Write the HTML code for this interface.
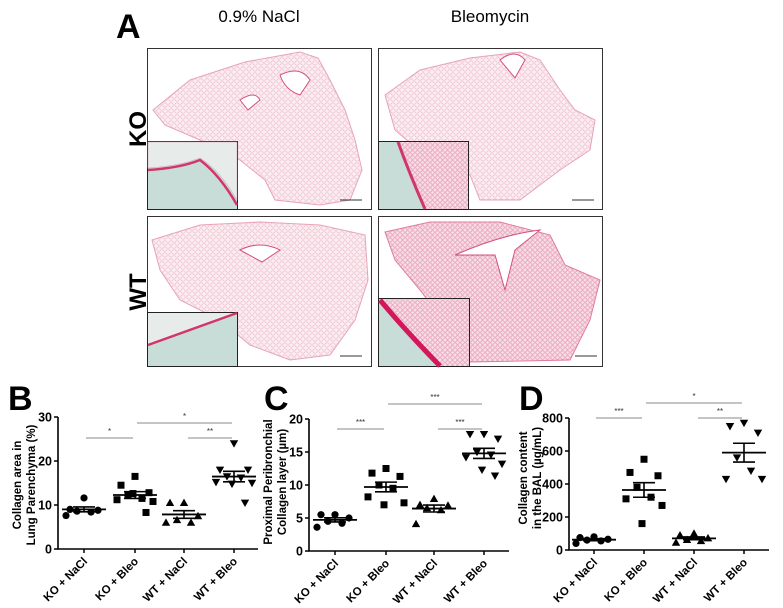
<!DOCTYPE html>
<html><head><meta charset="utf-8">
<style>
html,body{margin:0;padding:0;background:#fff;}
svg{display:block;font-family:"Liberation Sans",Arial,sans-serif;}
</style></head>
<body>
<svg id="fig" width="783" height="608" viewBox="0 0 783 608" xmlns="http://www.w3.org/2000/svg">
<defs>
<pattern id="tissue" width="6" height="6" patternUnits="userSpaceOnUse">
<rect width="6" height="6" fill="#fbeef2"/>
<circle cx="3" cy="3" r="2.2" fill="none" stroke="#eab3c4" stroke-width="0.6"/>
</pattern>
<pattern id="tissue2" width="5" height="5" patternUnits="userSpaceOnUse">
<rect width="5" height="5" fill="#f7dde6"/>
<circle cx="2.5" cy="2.5" r="1.8" fill="none" stroke="#e08aa6" stroke-width="0.6"/>
</pattern>
</defs>

<text x="116" y="38" font-size="34" font-weight="bold">A</text>
<text x="259" y="22" font-size="17" text-anchor="middle">0.9% NaCl</text>
<text x="490" y="22" font-size="17" text-anchor="middle">Bleomycin</text>
<text transform="translate(146,129) rotate(-90)" font-size="24" font-weight="bold" text-anchor="middle">KO</text>
<text transform="translate(146,292) rotate(-90)" font-size="24" font-weight="bold" text-anchor="middle">WT</text>

<g>
<rect x="147.5" y="48.5" width="224" height="161" fill="#fff" stroke="#333"/>
<path d="M153,110 L190,80 L245,62 L300,52 L318,58 L330,80 L345,110 L355,140 L362,170 L350,200 L320,205 L275,200 L265,180 L240,160 L200,140 L165,125 Z" fill="url(#tissue)" stroke="#e7a3b7"/>
<path d="M280,75 Q300,65 310,80 L300,95 Q285,90 280,75 Z M240,100 Q255,90 260,100 L248,110 Z" fill="#fff" stroke="#d6507a"/>
<rect x="147.5" y="141.5" width="90" height="68" fill="#c8ddd7" stroke="#222"/>
<path d="M148,142 L237,142 L237,200 Q220,170 200,158 Q180,166 148,168 Z" fill="#e7ecea" stroke="#d9a0b4" stroke-width="0.5"/>
<path d="M148,170 Q180,168 200,160 Q220,175 237,205" fill="none" stroke="#d2356a" stroke-width="2.5"/>
<line x1="340" y1="200" x2="362" y2="200" stroke="#333"/>
</g>
<g>
<rect x="378.5" y="48.5" width="224" height="161" fill="#fff" stroke="#333"/>
<path d="M385,95 L420,70 L470,58 L520,52 L540,60 L560,90 L575,110 L595,120 L590,150 L560,170 L520,200 L480,200 L470,175 L430,160 L395,130 Z" fill="url(#tissue)" stroke="#e7a3b7"/>
<path d="M500,60 Q515,48 525,60 L515,78 Z" fill="#fff" stroke="#d6507a"/>
<rect x="378.5" y="141.5" width="90" height="68" fill="#c8ddd7" stroke="#222"/>
<path d="M400,142 L468,142 L468,209 L425,209 Q410,170 400,142 Z" fill="url(#tissue2)"/>
<path d="M398,142 Q410,175 425,209" fill="none" stroke="#d2356a" stroke-width="3"/>
<line x1="572" y1="200" x2="594" y2="200" stroke="#333"/>
</g>
<g>
<rect x="147.5" y="216.5" width="224" height="150" fill="#fff" stroke="#333"/>
<path d="M152,240 L200,225 L260,222 L320,225 L365,235 L368,280 L355,320 L330,355 L290,360 L250,345 L220,320 L180,300 L160,270 Z" fill="url(#tissue)" stroke="#e7a3b7"/>
<path d="M240,250 Q260,240 280,250 L262,262 Z" fill="#fff" stroke="#d6507a"/>
<rect x="147.5" y="312.5" width="90" height="54" fill="#c8ddd7" stroke="#222"/>
<path d="M148,345 Q190,330 237,313 L148,313 Z" fill="#e7ecea"/>
<path d="M148,345 Q190,330 237,313" fill="none" stroke="#d2356a" stroke-width="2.5"/>
<line x1="340" y1="356" x2="362" y2="356" stroke="#333"/>
</g>
<g>
<rect x="378.5" y="216.5" width="224" height="150" fill="#fff" stroke="#333"/>
<path d="M385,232 L430,222 L500,222 L550,235 L565,265 L600,280 L590,320 L570,360 L470,362 L450,330 L420,290 L395,260 Z" fill="url(#tissue2)" stroke="#e07aa0"/>
<path d="M455,255 Q500,235 540,230 L515,250 L505,290 L495,255 Z" fill="#fff" stroke="#d6507a"/>
<rect x="378.5" y="298.5" width="91" height="68" fill="#c8ddd7" stroke="#222"/>
<path d="M380,300 L469,300 L469,366 L440,366 Q405,330 380,300 Z" fill="url(#tissue2)"/>
<path d="M380,300 Q405,330 440,366" fill="none" stroke="#d2175a" stroke-width="5"/>
<line x1="575" y1="356" x2="597" y2="356" stroke="#333"/>
</g>

<g id="chartB"></g>
<g id="chartC"></g>
<g id="chartD"></g>
</svg>

<script>
const categories = ["KO + NaCl","KO + Bleo","WT + NaCl","WT + Bleo"];
const bKoNacl = [11.6, 9.0, 8.8, 8.6, 8.4, 7.6];
const bKoBleo = [16.5, 14.5, 12.8, 12.2, 11.5, 11.2, 10.8, 12.6, 8.3];
const bWtNacl = [10.5, 10.5, 7.5, 6.6, 6.0, 6.0];
const bWtBleo = [24.0, 18.0, 18.0, 16.5, 16.2, 15.2, 15.0, 14.8, 10.5];
const bTicks = [0, 10, 20, 30];
const cKoNacl = [5.5, 5.5, 5.0, 4.5, 4.2, 3.6];
const cKoBleo = [12.5, 11.8, 11.3, 10.0, 9.5, 8.2, 7.3, 7.0];
const cWtNacl = [7.9, 7.0, 6.9, 6.5, 6.2, 4.1];
const cWtBleo = [17.7, 17.7, 17.0, 15.0, 14.6, 14.2, 13.2, 12.3, 11.4];
const cTicks = [0, 5, 10, 15, 20];
const dKoNacl = [80, 75, 65, 60, 55, 40];
const dKoBleo = [550, 470, 450, 380, 320, 310, 270, 160];
const dWtNacl = [100, 90, 72, 62, 55, 45];
const dWtBleo = [770, 750, 710, 560, 480, 430, 430];
const dTicks = [0, 200, 400, 600, 800];
const bSig = ["*", "*", "**"];
const cSig = ["***", "***", "***"];
const dSig = ["***", "*", "**"];

const NS = "http://www.w3.org/2000/svg";
function mk(parent, tag, attrs, text){
  const e = document.createElementNS(NS, tag);
  for (const k in attrs) e.setAttribute(k, attrs[k]);
  if (text !== undefined) e.textContent = text;
  parent.appendChild(e); return e;
}
function marker(g, shape, x, y){
  let e;
  if (shape === 0) e = mk(g, "circle", {cx:x, cy:y, r:3.6, fill:"#000"});
  else if (shape === 1) e = mk(g, "rect", {x:x-3.5, y:y-3.5, width:7, height:7, fill:"#000"});
  else if (shape === 2) e = mk(g, "path", {d:`M${x},${y-4.2}L${x+4.2},${y+3.2}L${x-4.2},${y+3.2}Z`, fill:"#000"});
  else e = mk(g, "path", {d:`M${x},${y+4.2}L${x+4.2},${y-3.2}L${x-4.2},${y-3.2}Z`, fill:"#000"});
  
  
}
const jit = [0, -14, 14, -7, 7, -18, 18, -2, 11];

function drawChart(id, cfg){
  const g = document.getElementById(id);
  const {x0, x1, yTop, yBot, max, ticks, series, cats, sig, sigY, title, letter, lx, titleX, titleY} = cfg;
  const ys = v => yBot - v / max * (yBot - yTop);
  const xs = i => cats[i];
  const L = mk(g, "text", {x:lx, y:410, "font-size":34, "font-weight":"bold"}, letter);
  
  
  const ax = mk(g, "path", {d:`M${x0},${yTop}V${yBot}H${x1}`, fill:"none", stroke:"#000", "stroke-width":1.6});
  
  
  ticks.forEach(t => {
    const y = ys(t);
    mk(g, "line", {x1:x0-4, x2:x0, y1:y, y2:y, stroke:"#000", "stroke-width":1.5});
    const tl = mk(g, "text", {x:x0-6, y:y+4.5, "font-size":12.5, "font-weight":"bold", "text-anchor":"end"}, t);
    
    
  });
  const yt = mk(g, "text", {transform:`translate(${titleX},${titleY}) rotate(-90)`, "font-size":11.5, "font-weight":"bold", "text-anchor":"middle"});
  
  
  mk(yt, "tspan", {x:0, dy:0}, title[0]);
  mk(yt, "tspan", {x:0, dy:14}, title[1]);
  categories.forEach((c, i) => {
    const x = xs(i);
    mk(g, "line", {x1:x, x2:x, y1:yBot, y2:yBot+4, stroke:"#000", "stroke-width":1.5});
    const cl = mk(g, "text", {transform:`translate(${x+4},${yBot+13}) rotate(-45)`, "font-size":11.5, "font-weight":"bold", "text-anchor":"end"}, c);
    
    
  });
  series.forEach((arr, i) => {
    const cx = xs(i);
    arr.forEach((v, k) => marker(g, i, cx + jit[k % jit.length], ys(v)));
    const n = arr.length, m = arr.reduce((a,b)=>a+b,0)/n;
    const sd = Math.sqrt(arr.reduce((a,b)=>a+(b-m)*(b-m),0)/(n-1)), se = sd/Math.sqrt(n);
    const ml = mk(g, "line", {x1:cx-22, x2:cx+22, y1:ys(m), y2:ys(m), stroke:"#000", "stroke-width":1.8});
    
    
    const eb = mk(g, "path", {d:`M${cx},${ys(m+se)}V${ys(m-se)}M${cx-11},${ys(m+se)}H${cx+11}M${cx-11},${ys(m-se)}H${cx+11}`, fill:"none", stroke:"#000", "stroke-width":1.6});
    
    
  });
  const pairs = [[0,1,sigY[0]],[1,3,sigY[1]],[2,3,sigY[0]]];
  pairs.forEach((p, k) => {
    const a = xs(p[0]) + (k===2 ? 4 : 2), b = xs(p[1]) - 2;
    const sl = mk(g, "line", {x1:a, x2:b, y1:p[2], y2:p[2], stroke:"#888", "stroke-width":1});
    
    
    const st = mk(g, "text", {x:(a+b)/2, y:p[2]-4, "font-size":8, "text-anchor":"middle", fill:"#333"}, sig[k]);
    
    
  });
}

drawChart("chartB", {x0:58, x1:258, yTop:417, yBot:549, max:30, ticks:bTicks,
  series:[bKoNacl,bKoBleo,bWtNacl,bWtBleo], cats:[84,135,184,234], sig:bSig, sigY:[438,423],
  title:["Collagen area in","Lung Parenchyma (%)"], letter:"B", lx:8, titleX:21, titleY:485});
drawChart("chartC", {x0:309, x1:509, yTop:419, yBot:551, max:20, ticks:cTicks,
  series:[cKoNacl,cKoBleo,cWtNacl,cWtBleo], cats:[335,386,434,484], sig:cSig, sigY:[429,404],
  title:["Proximal Peribronchial","Collagen layer (µm)"], letter:"C", lx:264, titleX:272, titleY:482});
drawChart("chartD", {x0:569, x1:769, yTop:418, yBot:550, max:800, ticks:dTicks,
  series:[dKoNacl,dKoBleo,dWtNacl,dWtBleo], cats:[594,644,694,744], sig:dSig, sigY:[418,403],
  title:["Collagen content","in the BAL (µg/mL)"], letter:"D", lx:519, titleX:527, titleY:478});
</script>
</body></html>
